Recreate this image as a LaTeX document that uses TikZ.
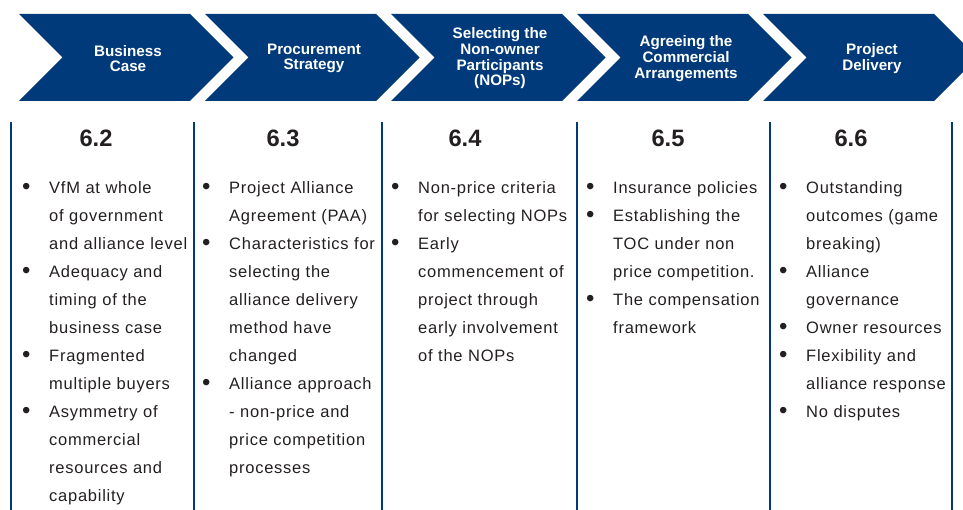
\documentclass[tikz,border=0pt]{standalone}
\usepackage{fontspec}
\setmainfont{Liberation Sans}
\newfontfamily\bodyfont[LetterSpace=4.5]{Liberation Sans}
\definecolor{navy}{RGB}{0,58,122}
\definecolor{ink}{RGB}{35,31,32}
% one bulleted entry with a hanging indent; lines are broken by hand
\newcommand\bitem[1]{\hangindent=27pt\hangafter=1\noindent\makebox[27pt][l]{\raisebox{-1.5pt}{\scalebox{1.45}{\textbullet}}}#1\par}
\tikzset{
  stagelabel/.style={text=white, font=\bfseries\fontsize{15.2}{15.7}\selectfont, align=center, inner sep=0pt},
  secnum/.style={text=ink, font=\bfseries\fontsize{23.7}{24}\selectfont, anchor=base, inner sep=0pt},
  itemlist/.style={text=ink, font=\bodyfont\fontsize{16.5}{28}\selectfont, text width=200pt, align=left, anchor=base west, inner sep=0pt},
  divider/.style={navy, line width=2pt},
}
\begin{document}
\begin{tikzpicture}[x=1pt,y=-1pt]
\useasboundingbox (0,0) rectangle (963,510);
\clip (0,0) rectangle (963,510);

% process chevrons
\foreach \L in {19,205,391,577,763}{
  \fill[navy] (\L,14) -- (\L+171,14) -- (\L+214.5,57.5) -- (\L+171,101)
    -- (\L,101) -- (\L+43.5,57.5) -- cycle;
}
\node[stagelabel] (s1) at (128,58.5) {Business\\Case};
\node[stagelabel] (s2) at (314,58.5) {Procurement\\Strategy};
\node[stagelabel] (s3) at (500,58.5) {Selecting the\\Non-owner\\Participants\\(NOPs)};
\node[stagelabel] (s4) at (686,58.5) {Agreeing the\\Commercial\\Arrangements};
\node[stagelabel] (s5) at (872,58.5) {Project\\Delivery};

% column dividers
\foreach \x in {11,194,382,577,770,952}{
  \draw[divider] (\x,122) -- (\x,512);
}

% section numbers
\node[secnum] (n2) at (96,147) {6.2};
\node[secnum] (n3) at (283,147) {6.3};
\node[secnum] (n4) at (465,147) {6.4};
\node[secnum] (n5) at (668,147) {6.5};
\node[secnum] (n6) at (851,147) {6.6};

% issues under each stage
\node[itemlist] (c1) at (22,193.5) {%
  \bitem{VfM at whole\newline of government\newline and alliance level}
  \bitem{Adequacy and\newline timing of the\newline business case}
  \bitem{Fragmented\newline multiple buyers}
  \bitem{Asymmetry of\newline commercial\newline resources and\newline capability}};
\node[itemlist] (c2) at (202,193.5) {%
  \bitem{Project Alliance\newline Agreement (PAA)}
  \bitem{Characteristics for\newline selecting the\newline alliance delivery\newline method have\newline changed}
  \bitem{Alliance approach\newline - non-price and\newline price competition\newline processes}};
\node[itemlist] (c3) at (391,193.5) {%
  \bitem{Non-price criteria\newline for selecting NOPs}
  \bitem{Early\newline commencement of\newline project through\newline early involvement\newline of the NOPs}};
\node[itemlist] (c4) at (586,193.5) {%
  \bitem{Insurance policies}
  \bitem{Establishing the\newline TOC under non\newline price competition.}
  \bitem{The compensation\newline framework}};
\node[itemlist] (c5) at (779,193.5) {%
  \bitem{Outstanding\newline outcomes (game\newline breaking)}
  \bitem{Alliance\newline governance}
  \bitem{Owner resources}
  \bitem{Flexibility and\newline alliance response}
  \bitem{No disputes}};
\end{tikzpicture}
\end{document}
